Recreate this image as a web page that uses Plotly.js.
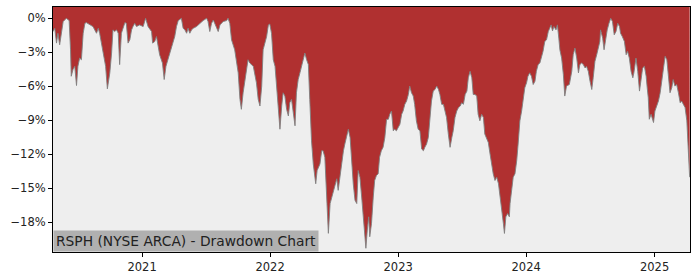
<!DOCTYPE html>
<html>
<head>
<meta charset="utf-8">
<script src="https://cdn.plot.ly/plotly-3.0.1.min.js"></script>
<style>
  html, body { margin: 0; padding: 0; background: #ffffff; }
  #chart { width: 700px; height: 280px; }
</style>
</head>
<body>
<div id="chart"></div>
<script>
// ---- Data ----
const chartTitle = "RSPH (NYSE ARCA) - Drawdown Chart";

const dates = [
  "2020-04-22","2020-04-27","2020-05-02","2020-05-06","2020-05-11","2020-05-16","2020-05-21","2020-05-30",
  "2020-06-07","2020-06-11","2020-06-13","2020-06-18","2020-06-23","2020-06-28","2020-07-02","2020-07-07",
  "2020-07-12","2020-07-17","2020-07-22","2020-07-26","2020-08-05","2020-08-14","2020-08-24","2020-08-29",
  "2020-09-02","2020-09-07","2020-09-14","2020-09-19","2020-09-24","2020-10-01","2020-10-06","2020-10-10",
  "2020-10-15","2020-10-20","2020-10-25","2020-10-29","2020-11-03","2020-11-08","2020-11-13","2020-11-17",
  "2020-11-22","2020-11-27","2020-12-02","2020-12-06","2020-12-11","2020-12-16","2020-12-25",
  "2021-01-04","2021-01-11","2021-01-18","2021-01-28","2021-01-31","2021-02-06","2021-02-11","2021-02-16",
  "2021-02-20","2021-02-28","2021-03-05","2021-03-10","2021-03-16","2021-03-26","2021-04-04","2021-04-09",
  "2021-04-14","2021-04-23","2021-04-28","2021-05-03","2021-05-08","2021-05-12","2021-05-17","2021-05-22",
  "2021-05-27","2021-06-05","2021-06-15","2021-06-24","2021-07-04","2021-07-08","2021-07-13","2021-07-18",
  "2021-07-23","2021-07-27","2021-08-01","2021-08-06","2021-08-11","2021-08-20","2021-08-30","2021-09-03",
  "2021-09-08","2021-09-13","2021-09-22","2021-10-02","2021-10-07","2021-10-11","2021-10-16","2021-10-21",
  "2021-10-26","2021-10-30","2021-11-04","2021-11-14","2021-11-23","2021-11-28","2021-12-03","2021-12-08",
  "2021-12-12","2021-12-22","2021-12-27","2021-12-31",
  "2022-01-05","2022-01-10","2022-01-15","2022-01-19","2022-01-24","2022-01-29","2022-02-03","2022-02-07",
  "2022-02-12","2022-02-17","2022-02-22","2022-02-26","2022-03-03","2022-03-08","2022-03-13","2022-03-17",
  "2022-03-22","2022-03-27","2022-04-01","2022-04-05","2022-04-10","2022-04-15","2022-04-20","2022-04-24",
  "2022-04-29","2022-05-04","2022-05-11","2022-05-15","2022-05-23","2022-05-28","2022-06-01","2022-06-06",
  "2022-06-11","2022-06-16","2022-06-21","2022-06-26","2022-06-30","2022-07-05","2022-07-10","2022-07-14",
  "2022-07-19","2022-07-24","2022-07-29","2022-08-02","2022-08-07","2022-08-12","2022-08-17","2022-08-21",
  "2022-08-26","2022-08-31","2022-09-05","2022-09-09","2022-09-14","2022-09-19","2022-09-24","2022-09-28",
  "2022-10-01","2022-10-05","2022-10-09","2022-10-12","2022-10-17","2022-10-22","2022-10-26","2022-10-31",
  "2022-11-05","2022-11-09","2022-11-14","2022-11-19","2022-11-24","2022-11-29","2022-12-04","2022-12-08",
  "2022-12-13","2022-12-18","2022-12-22","2022-12-27",
  "2023-01-01","2023-01-06","2023-01-11","2023-01-15","2023-01-20","2023-01-25","2023-01-30","2023-02-03",
  "2023-02-08","2023-02-13","2023-02-17","2023-02-22","2023-02-27","2023-03-04","2023-03-09","2023-03-14",
  "2023-03-18","2023-03-23","2023-03-28","2023-04-02","2023-04-06","2023-04-11","2023-04-16","2023-04-21",
  "2023-04-26","2023-04-30","2023-05-05","2023-05-10","2023-05-15","2023-05-19","2023-05-24","2023-05-29",
  "2023-06-03","2023-06-07","2023-06-12","2023-06-17","2023-06-22","2023-06-27","2023-07-01","2023-07-06",
  "2023-07-11","2023-07-16","2023-07-20","2023-07-25","2023-07-30","2023-08-03","2023-08-08","2023-08-13",
  "2023-08-17","2023-08-22","2023-08-27","2023-09-01","2023-09-05","2023-09-10","2023-09-15","2023-09-20",
  "2023-09-24","2023-09-29","2023-10-04","2023-10-09","2023-10-14","2023-10-18","2023-10-23","2023-10-28",
  "2023-10-31","2023-11-04","2023-11-09","2023-11-14","2023-11-16","2023-11-20","2023-11-25","2023-11-30",
  "2023-12-05","2023-12-09","2023-12-14","2023-12-19","2023-12-23","2023-12-28",
  "2024-01-02","2024-01-06","2024-01-11","2024-01-16","2024-01-21","2024-01-26","2024-01-30","2024-02-04",
  "2024-02-09","2024-02-14","2024-02-18","2024-02-23","2024-02-28","2024-03-04","2024-03-09","2024-03-12",
  "2024-03-16","2024-03-20","2024-03-26","2024-03-30","2024-04-03","2024-04-06","2024-04-11","2024-04-16",
  "2024-04-20","2024-04-25","2024-05-03","2024-05-10","2024-05-14","2024-05-19","2024-05-24","2024-05-29",
  "2024-06-02","2024-06-07","2024-06-12","2024-06-17","2024-06-21","2024-06-26","2024-07-01","2024-07-06",
  "2024-07-10","2024-07-15","2024-07-20","2024-07-25","2024-07-29","2024-07-31","2024-08-06","2024-08-10",
  "2024-08-15","2024-08-19","2024-08-24","2024-08-29","2024-09-03","2024-09-08","2024-09-13","2024-09-18",
  "2024-09-23","2024-09-26","2024-10-01","2024-10-07","2024-10-12","2024-10-16","2024-10-21","2024-10-26",
  "2024-10-31","2024-11-03","2024-11-09","2024-11-14","2024-11-19","2024-11-23","2024-11-28","2024-12-03",
  "2024-12-08","2024-12-11","2024-12-14","2024-12-17","2024-12-22","2024-12-29",
  "2025-01-02","2025-01-07","2025-01-12","2025-01-17","2025-01-21","2025-01-26","2025-01-31","2025-02-05",
  "2025-02-09","2025-02-14","2025-02-19","2025-02-23","2025-02-28","2025-03-05","2025-03-10","2025-03-15",
  "2025-03-19","2025-03-24","2025-03-29","2025-04-03","2025-04-08","2025-04-11"
];

const drawdownPct = [
  -1.17,-0.88,-2.19,-1.32,-2.34,-1.17,-0.29,0,
  -0.20,-2.78,-5.12,-4.53,-4.24,-5.94,-4.24,-3.51,
  -3.66,-1.32,-0.44,-0.38,-0.58,-0.73,-1.32,-0.88,
  -1.32,-2.19,-3.36,-4.24,-6.23,-4.82,-3.07,-1.02,
  -1.17,-1.02,-1.32,-4.09,-1.32,-0.73,-0.38,-0.44,
  -2.19,-1.90,-1.02,-0.73,-0.44,-0.73,-0.58,
  -0.73,0,-0.73,-1.17,-2.19,-2.05,-1.61,-2.49,
  -3.22,-3.95,-5.41,-4.24,-3.66,-2.49,-1.61,-0.73,
  -0.20,0,-0.88,-1.02,-1.32,-0.88,-1.32,-1.02,
  -0.88,-0.73,-0.44,-0.20,0,-0.29,-1.17,-0.44,
  -0.15,-0.44,-0.88,-1.17,-0.58,-0.29,-0.20,0,
  -0.44,-1.90,-2.78,-4.82,-7.16,-8.04,-6.58,-5.41,
  -4.53,-3.66,-3.95,-4.24,-5.70,-7.16,-7.75,-5.99,
  -2.78,-1.61,-0.58,-0.50,
  -1.32,-3.66,-4.24,-5.70,-8.04,-9.80,-7.75,-6.58,
  -6.87,-8.04,-8.63,-7.46,-7.16,-8.33,-9.50,-6.58,
  -5.41,-4.82,-4.09,-3.80,-3.07,-3.66,-4.09,-7.16,
  -10.82,-12.87,-14.62,-13.45,-12.87,-11.70,-11.70,-12.28,
  -15.79,-19.00,-16.37,-15.79,-15.20,-14.62,-14.18,-15.20,
  -14.04,-12.57,-11.70,-11.11,-10.53,-9.80,-10.53,-12.57,
  -14.62,-16.08,-16.37,-13.45,-14.04,-15.79,-17.54,-19.30,
  -20.32,-18.71,-17.54,-19.30,-18.13,-15.79,-14.33,-13.89,
  -13.74,-12.28,-11.70,-11.40,-10.53,-8.92,-8.92,-8.48,
  -8.19,-9.94,-9.80,-9.94,
  -9.65,-9.36,-8.48,-8.19,-7.60,-7.31,-6.73,-5.99,
  -6.58,-6.87,-7.60,-9.06,-9.80,-9.94,-11.55,-11.70,
  -11.40,-11.11,-10.53,-8.48,-7.31,-6.43,-6.29,-5.99,
  -6.29,-6.73,-7.60,-7.60,-8.19,-8.77,-10.23,-11.40,
  -10.53,-9.94,-8.77,-8.19,-7.89,-7.75,-7.46,-7.60,
  -6.73,-6.43,-5.26,-4.68,-5.26,-6.73,-6.73,-6.87,
  -8.48,-9.06,-8.48,-8.77,-10.23,-10.67,-10.97,-11.99,
  -12.87,-13.74,-14.33,-14.04,-14.62,-15.50,-16.67,-18.13,
  -19.01,-17.54,-17.25,-17.54,-16.37,-15.20,-14.04,-13.74,
  -12.57,-11.11,-9.06,-8.19,-7.02,-6.14,
  -5.70,-5.12,-4.82,-5.12,-5.85,-5.56,-4.68,-4.09,
  -3.95,-3.36,-2.92,-2.05,-1.90,-1.17,-0.88,-0.58,
  -1.11,-0.73,-1.02,-0.58,-1.75,-2.78,-3.51,-4.97,
  -6.87,-5.99,-5.85,-4.68,-3.22,-2.63,-3.51,-4.82,
  -4.09,-3.95,-4.09,-4.39,-4.24,-4.68,-5.56,-6.29,
  -5.26,-3.80,-3.22,-2.63,-2.05,-1.02,-1.75,-2.78,
  -1.75,-1.02,-0.44,0,-0.29,-1.46,-1.17,-0.44,
  -0.73,-1.32,-1.61,-2.05,-3.22,-2.92,-3.51,-4.68,
  -5.26,-4.82,-3.51,-4.68,-6.43,-5.56,-4.39,-4.24,
  -5.12,-6.14,-7.02,-8.92,-8.48,-9.21,
  -8.19,-7.75,-7.31,-6.58,-5.56,-4.09,-3.36,-3.66,
  -5.26,-6.58,-6.14,-5.41,-5.99,-5.85,-6.58,-7.46,
  -7.31,-7.60,-7.89,-9.06,-12.28,-14.04
];

const yTickValues = [0, -3, -6, -9, -12, -15, -18];
const yTickLabels = ["0%", "\u22123%", "\u22126%", "\u22129%", "\u221212%", "\u221215%", "\u221218%"];
const xTickValues = ["2021-01-01", "2022-01-01", "2023-01-01", "2024-01-01", "2025-01-01"];
const xTickLabels = ["2021", "2022", "2023", "2024", "2025"];

// Upper edge of the red band (above the visible top of the axis)
const fillCeiling = 5;

// ---- Chart ----
const ceilingTrace = {
  x: [dates[0], dates[dates.length - 1]],
  y: [fillCeiling, fillCeiling],
  type: "scatter",
  mode: "lines",
  line: { width: 0, color: "rgba(0,0,0,0)" },
  hoverinfo: "skip",
  showlegend: false
};

const ddTrace = {
  x: dates,
  y: drawdownPct,
  type: "scatter",
  mode: "lines",
  line: { color: "rgba(128,128,128,0.9)", width: 1 },
  fill: "tonexty",
  fillcolor: "#b03030",
  showlegend: false
};

const axisFont = { family: "DejaVu Sans, sans-serif", size: 11.5, color: "#222222" };

const layout = {
  width: 700,
  height: 280,
  margin: { l: 53, r: 10, t: 7, b: 28, pad: 0 },
  paper_bgcolor: "#ffffff",
  plot_bgcolor: "#eeeeee",
  showlegend: false,
  xaxis: {
    type: "date",
    range: ["2020-04-22", "2025-04-12"],
    tickmode: "array",
    tickvals: xTickValues,
    ticktext: xTickLabels,
    ticks: "outside",
    ticklen: 4,
    tickwidth: 1,
    tickcolor: "#000000",
    showline: true,
    linecolor: "#000000",
    linewidth: 1,
    mirror: true,
    showgrid: false,
    zeroline: false,
    tickfont: axisFont
  },
  yaxis: {
    range: [-20.65, 1.0],
    tickmode: "array",
    tickvals: yTickValues,
    ticktext: yTickLabels,
    ticks: "outside",
    ticklen: 4,
    tickwidth: 1,
    tickcolor: "#000000",
    showline: true,
    linecolor: "#000000",
    linewidth: 1,
    mirror: true,
    showgrid: false,
    zeroline: false,
    tickfont: axisFont
  },
  annotations: [{
    text: chartTitle,
    xref: "paper", yref: "paper",
    x: 0, y: 0,
    xanchor: "left", yanchor: "bottom",
    showarrow: false,
    bgcolor: "#b0b0b0",
    borderpad: 2,
    font: { family: "DejaVu Sans, sans-serif", size: 13.8, color: "#222222" }
  }]
};

Plotly.newPlot("chart", [ceilingTrace, ddTrace], layout, { staticPlot: true, displayModeBar: false });
</script>
</body>
</html>
